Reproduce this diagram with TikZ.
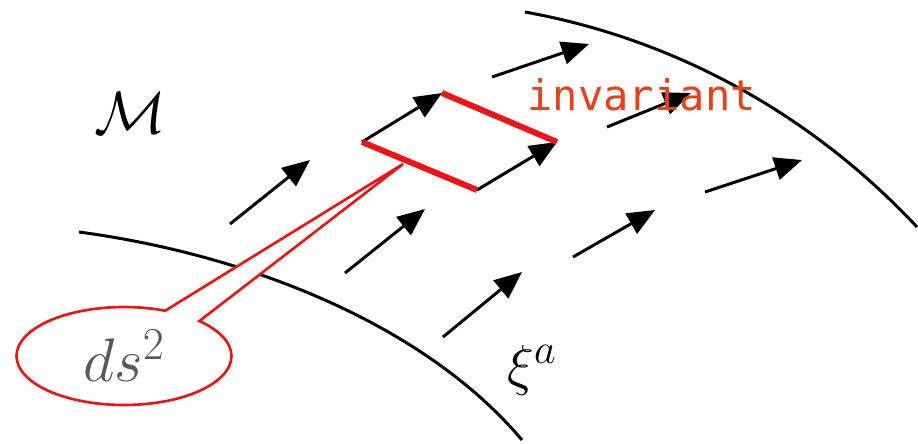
\RequirePackage{fix-cm}
\documentclass[tikz,border=0pt]{standalone}
\usepackage{amsmath,amssymb}
\usepackage{fontspec}
\usepackage{xcolor}
\usepackage{tikz}
\usetikzlibrary{arrows.meta, shapes.callouts, calc}
\newfontfamily\handfont{DejaVu Sans Mono}
\DeclareMathSizes{35}{35}{26}{20}
\DeclareMathSizes{32}{32}{24}{18}
\definecolor{metricred}{RGB}{236,20,20}
\definecolor{labelred}{RGB}{232,64,24}
\tikzset{
  edgeline/.style={line width=1.7pt, black},
  fieldarrow/.style={
    -{Triangle[length=0.55cm, width=0.46cm]}, line width=1.7pt, black
  },
  redside/.style={line width=3.4pt, metricred, line cap=butt},
  metricbubble/.style={
    ellipse callout, draw=metricred, line width=1.5pt, fill=white,
    minimum width=4.3cm, minimum height=1.96cm, inner sep=0pt,
    callout pointer arc=22, text=black!65,
    font=\fontsize{35}{40}\selectfont
  },
  mathlabel/.style={inner sep=0pt},
}

\begin{document}
\begin{tikzpicture}[x=0.02cm, y=-0.02cm]
  \useasboundingbox (0,0) rectangle (918,443);

  % Boundaries of the region
  \draw[edgeline] (79,232) .. controls (250,255) and (425,325) .. (522,440);
  \draw[edgeline] (525,12) .. controls (680,40) and (815,118) .. (917,227);

  % Killing vector field
  \foreach \sx/\sy/\ex/\ey in {230/224/310/160, 345/273/425/209,
      443/337/522/272, 573/257/655/210, 705/192/802/160,
      607/127/691/93, 492/77/589/44}
    \draw[fieldarrow] (\sx,\sy) -- (\ex,\ey);

  % Parallelogram carried along the flow
  \coordinate (pa) at (362,142);
  \coordinate (pb) at (477,190);
  \coordinate (pc) at (442,93);
  \coordinate (pd) at (557,142);
  \draw[fieldarrow] (pa) -- (pc);
  \draw[fieldarrow] (pb) -- (pd);
  \draw[redside] (pa) -- (pb);
  \draw[redside] (pc) -- (pd);
  \coordinate (tip) at (403,164);

  % Labels
  \node[metricbubble, callout absolute pointer=(tip)] (metric) at (124,356) {$ds^2$};
  \node[mathlabel] (manifold) at (130,113) {\fontsize{34}{40}\selectfont$\mathcal{M}$};
  \node[mathlabel, anchor=base west] (field) at (507,384)
    {\fontsize{32}{38}\selectfont$\xi^a$};
  \node[mathlabel, anchor=base west, text=labelred] (inv) at (527,110)
    {\handfont\fontsize{24}{28}\selectfont invariant};
\end{tikzpicture}
\end{document}
